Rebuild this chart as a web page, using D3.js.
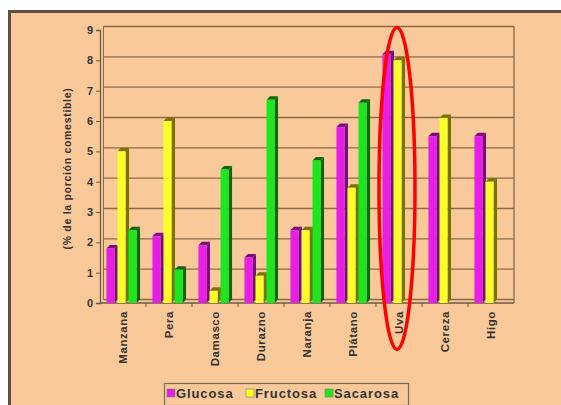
<!DOCTYPE html>
<html>
<head>
<meta charset="utf-8">
<script src="https://cdn.jsdelivr.net/npm/d3@7"></script>
<style>
  html, body { margin: 0; padding: 0; background: #ffffff; }
  svg { display: block; }
  text { font-family: "Liberation Sans", Arial, sans-serif; font-weight: bold; }
</style>
</head>
<body>
<svg id="chart" width="561" height="405"></svg>
<script>
// Azúcares por fruta (% de la porción comestible)
const categories = ["Manzana", "Pera", "Damasco", "Durazno", "Naranja", "Plátano", "Uva", "Cereza", "Higo"];
const series = ["Glucosa", "Fructosa", "Sacarosa"];
const glucosa  = [1.8, 2.2, 1.9, 1.5, 2.4, 5.8, 8.2, 5.5, 5.5];
const fructosa = [5.0, 6.0, 0.4, 0.9, 2.4, 3.8, 8.0, 6.1, 4.0];
const sacarosa = [2.4, 1.1, 4.4, 6.7, 4.7, 6.6, 0, 0, 0];
const yTicks = [0, 1, 2, 3, 4, 5, 6, 7, 8, 9];
const yTitle = "(% de la porción comestible)";
const highlighted = "Uva";

const values = { Glucosa: glucosa, Fructosa: fructosa, Sacarosa: sacarosa };
const front = { Glucosa: "#e61ee6", Fructosa: "#ffff2a", Sacarosa: "#1ee61e" };
const shade = { Glucosa: "#7a0a80", Fructosa: "#7a7300", Sacarosa: "#0a6a0a" };

const svg = d3.select("#chart");
const depth = 3.5;

// Panel background with frame
svg.append("rect").attr("x", 9).attr("y", 11).attr("width", 552).attr("height", 394).attr("fill", "#f9c99a");
svg.append("path").attr("d", "M9.5,405 V11.5 H561").attr("fill", "none").attr("stroke", "#5a5048").attr("stroke-width", 3);

const plot = { left: 100, right: 514, top: 30, bottom: 303 };
const y = d3.scaleLinear().domain([0, 9]).range([plot.bottom, plot.top]);
const x0 = d3.scaleBand().domain(categories).range([plot.left, plot.right]).paddingInner(0.28).paddingOuter(0.14);
const x1 = d3.scaleBand().domain(series).range([0, x0.bandwidth()]);

// Back wall gridlines
const grid = svg.append("g");
grid.selectAll("line.h").data(yTicks).join("line")
  .attr("x1", plot.left + depth).attr("x2", plot.right)
  .attr("y1", d => y(d) - depth).attr("y2", d => y(d) - depth)
  .attr("stroke", "#8c6c48").attr("stroke-width", 1.3);
grid.append("line").attr("x1", plot.left + depth).attr("x2", plot.left + depth)
  .attr("y1", y(9) - depth).attr("y2", y(0) - depth).attr("stroke", "#8c6c48");
grid.append("line").attr("x1", plot.right).attr("x2", plot.right)
  .attr("y1", y(9) - depth).attr("y2", y(0)).attr("stroke", "#8c6c48").attr("stroke-width", 1.3);

// Floor edge
svg.append("line").attr("x1", plot.left).attr("x2", plot.right)
  .attr("y1", plot.bottom).attr("y2", plot.bottom).attr("stroke", "#6a5a48").attr("stroke-width", 1.5);

// 3D bars
const bars = [];
categories.forEach((c, i) => series.forEach(s => bars.push({ c, s, v: values[s][i] })));
const barG = svg.append("g");
bars.filter(d => d.v > 0).forEach(d => {
  const bx = x0(d.c) + x1(d.s);
  const w = x1.bandwidth() - depth + 0.5;
  const top = y(d.v), base = y(0);
  const g = barG.append("g");
  g.append("path")
    .attr("d", `M${bx + w},${base} L${bx + w},${top} L${bx + w + depth},${top - depth} L${bx + w + depth},${base - depth} Z`)
    .attr("fill", shade[d.s]);
  g.append("path")
    .attr("d", `M${bx},${top} L${bx + depth},${top - depth} L${bx + w + depth},${top - depth} L${bx + w},${top} Z`)
    .attr("fill", shade[d.s]);
  g.append("rect").attr("x", bx).attr("y", top).attr("width", w).attr("height", base - top)
    .attr("fill", front[d.s]);
});

// Y axis
const yAxis = svg.append("g").attr("transform", `translate(${plot.left},0)`)
  .call(d3.axisLeft(y).tickValues(yTicks).tickSize(4).tickFormat(d3.format("d")));
yAxis.select(".domain").attr("stroke", "#6a5a48").attr("stroke-width", 1.3);
yAxis.selectAll(".tick line").attr("stroke", "#6a5a48");
yAxis.selectAll(".tick text").attr("font-size", 11).attr("fill", "#333").attr("x", -7)
  .style("font-family", '"Liberation Sans", Arial, sans-serif').style("font-weight", "bold");

// X axis
const xAxis = svg.append("g").attr("transform", `translate(0,${plot.bottom})`)
  .call(d3.axisBottom(x0).tickSize(0).tickPadding(0));
xAxis.select(".domain").remove();
xAxis.selectAll(".tick text")
  .attr("transform", "rotate(-90)").attr("text-anchor", "end")
  .attr("x", -8).attr("y", 0).attr("dy", "0.35em")
  .attr("font-size", 11.5).attr("fill", "#333")
  .style("letter-spacing", "0.6px")
  .style("font-family", '"Liberation Sans", Arial, sans-serif').style("font-weight", "bold");
// Category separators on the floor
svg.append("g").selectAll("line").data(categories.slice(1)).join("line")
  .attr("x1", d => x0(d) - x0.step() * x0.paddingInner() / 2)
  .attr("x2", d => x0(d) - x0.step() * x0.paddingInner() / 2)
  .attr("y1", plot.bottom).attr("y2", plot.bottom + 4).attr("stroke", "#6a5a48");

// Y title
svg.append("text").attr("transform", `translate(71,${(plot.top + plot.bottom) / 2 + 2}) rotate(-90)`)
  .attr("text-anchor", "middle").attr("font-size", 10.5).attr("fill", "#333")
  .style("letter-spacing", "0.7px").text(yTitle);

// Legend
const legend = svg.append("g");
legend.append("rect").attr("x", 164.5).attr("y", 383.5).attr("width", 244).attr("height", 22)
  .attr("fill", "#f9c99a").attr("stroke", "#7a6a58").attr("stroke-width", 1.2);
const legendX = d3.scaleOrdinal().domain(series).range([167, 246, 325]);
series.forEach(s => {
  legend.append("rect").attr("x", legendX(s)).attr("y", 389).attr("width", 8).attr("height", 8)
    .attr("fill", front[s]).attr("stroke", "#777").attr("stroke-width", 0.6);
  legend.append("text").attr("x", legendX(s) + 9).attr("y", 398)
    .attr("font-size", 13).attr("fill", "#333").style("letter-spacing", "0.9px").text(s);
});

// Highlight ring around one fruit
const hx = x0(highlighted) + x0.bandwidth() / 2;
svg.append("ellipse").attr("cx", hx - 2).attr("cy", 188.5).attr("rx", 18).attr("ry", 161)
  .attr("fill", "none").attr("stroke", "#ff0000").attr("stroke-width", 3.5);
</script>
</body>
</html>
